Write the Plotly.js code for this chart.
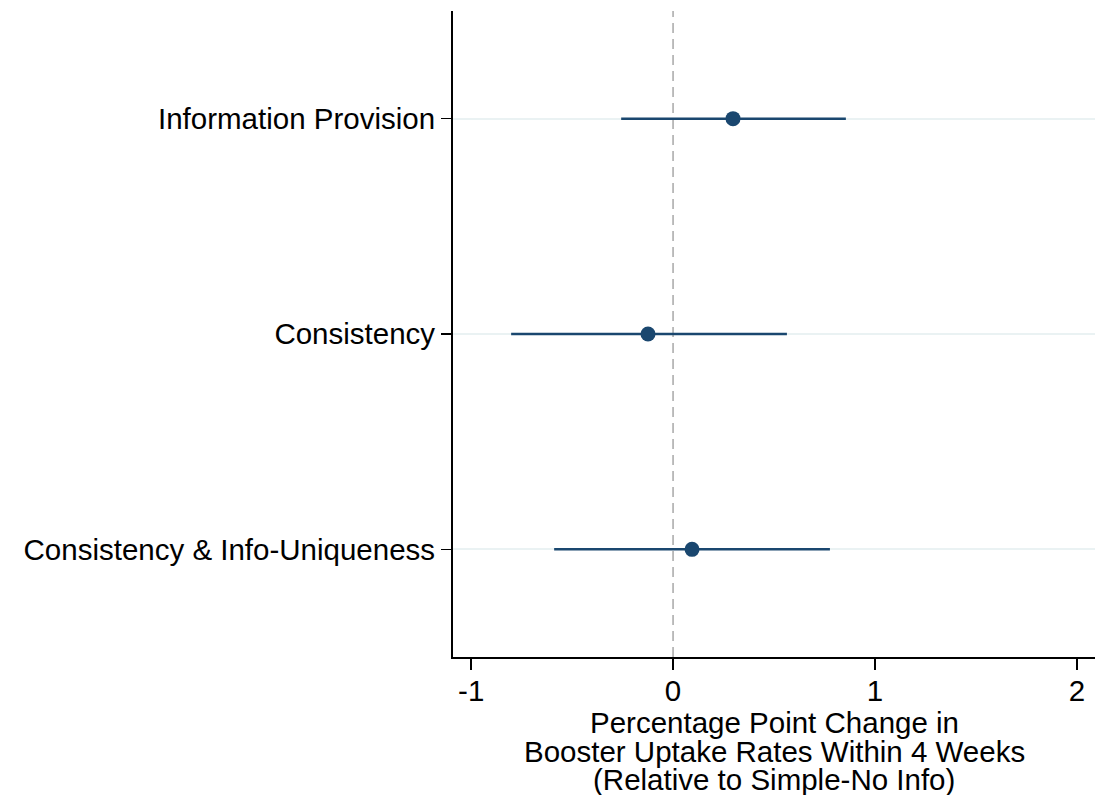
<!DOCTYPE html>
<html>
<head>
<meta charset="utf-8">
<script src="https://cdn.plot.ly/plotly-3.0.1.min.js"></script>
<style>html,body{margin:0;padding:0;background:#fff;}#chart{width:1105px;height:795px;}</style>
</head>
<body>
<div id="chart"></div>
<script>
const categories = ["Information Provision", "Consistency", "Consistency & Info-Uniqueness"];
const positions = [1, 2, 3];
const estimates = [0.297, -0.124, 0.094];
const ciLower = [-0.257, -0.802, -0.589];
const ciUpper = [0.856, 0.564, 0.777];
const xTicks = [-1, 0, 1, 2];
const xTitleLines = ["Percentage Point Change in", "Booster Uptake Rates Within 4 Weeks", "(Relative to Simple-No Info)"];

const trace = {
  type: 'scatter',
  mode: 'markers',
  x: estimates,
  y: positions,
  marker: {color: '#1a476f', size: 15},
  error_x: {
    type: 'data',
    symmetric: false,
    array: estimates.map((e, i) => ciUpper[i] - e),
    arrayminus: estimates.map((e, i) => e - ciLower[i]),
    color: '#1a476f',
    thickness: 2.5,
    width: 0
  },
  hoverinfo: 'skip'
};

const titleShifts = [-65, -94, -122];
const annotations = xTitleLines.map((t, i) => ({
  text: t,
  xref: 'paper', yref: 'paper',
  x: 0.5, y: 0,
  xanchor: 'center', yanchor: 'middle',
  yshift: titleShifts[i],
  showarrow: false,
  font: {size: 29.5, color: '#000'}
}));

const layout = {
  width: 1105,
  height: 795,
  margin: {l: 453, r: 10, t: 11, b: 138},
  paper_bgcolor: '#fff',
  plot_bgcolor: '#fff',
  showlegend: false,
  font: {family: 'Liberation Sans, Arial, Helvetica, sans-serif', size: 24, color: '#000'},
  xaxis: {
    range: [-1.09, 2.09],
    tickvals: xTicks,
    ticktext: xTicks.map(String),
    ticks: 'outside',
    ticklen: 11,
    tickwidth: 1.5,
    tickcolor: '#000',
    ticklabelstandoff: -4,
    showline: true,
    linecolor: '#000',
    linewidth: 1.5,
    showgrid: false,
    zeroline: false,
    tickfont: {size: 29.5},
    automargin: false
  },
  yaxis: {
    range: [3.5, 0.5],
    tickvals: positions,
    ticktext: categories,
    ticks: 'outside',
    ticklen: 10,
    tickwidth: 1.5,
    tickcolor: '#000',
    showline: true,
    linecolor: '#000',
    linewidth: 2,
    showgrid: true,
    gridcolor: '#eaf2f3',
    gridwidth: 2,
    zeroline: false,
    tickfont: {size: 29.5},
    automargin: false
  },
  annotations: annotations,
  shapes: [{
    type: 'line',
    xref: 'x', yref: 'paper',
    x0: 0, x1: 0, y0: 0, y1: 1,
    line: {color: '#a8a8a8', width: 1.5, dash: '10px,6px'},
    layer: 'below'
  }]
};

Plotly.newPlot('chart', [trace], layout, {displayModeBar: false, staticPlot: true});
</script>
</body>
</html>
